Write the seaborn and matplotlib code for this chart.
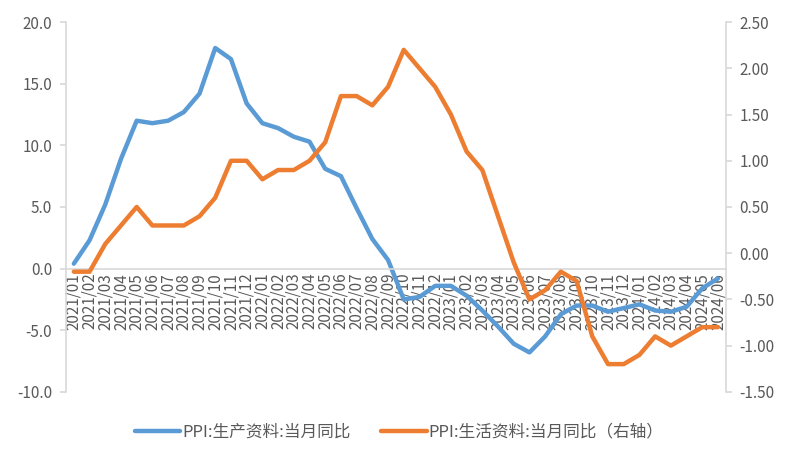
import pandas as pd
import numpy as np
import matplotlib
matplotlib.use('Agg')
import matplotlib.pyplot as plt
import seaborn as sns
from matplotlib.ticker import FormatStrFormatter, FixedLocator

# data: PPI year-on-year, 2021/01 - 2024/06
months = [f'{y}/{m:02d}' for y in (2021, 2022, 2023, 2024) for m in range(1, 13)][:42]
production = [0.4, 2.3, 5.2, 8.9, 12.0, 11.8, 12.0, 12.7, 14.2, 17.9, 17.0, 13.4,
              11.8, 11.4, 10.7, 10.3, 8.1, 7.5, 4.9, 2.4, 0.7, -2.5, -2.3, -1.4,
              -1.4, -2.2, -3.4, -4.7, -6.1, -6.8, -5.5, -3.7, -3.0, -3.0, -3.5, -3.2,
              -2.9, -3.4, -3.5, -3.1, -1.6, -0.8]
consumer = [-0.2, -0.2, 0.1, 0.3, 0.5, 0.3, 0.3, 0.3, 0.4, 0.6, 1.0, 1.0,
            0.8, 0.9, 0.9, 1.0, 1.2, 1.7, 1.7, 1.6, 1.8, 2.2, 2.0, 1.8,
            1.5, 1.1, 0.9, 0.4, -0.1, -0.5, -0.4, -0.2, -0.3, -0.9, -1.2, -1.2,
            -1.1, -0.9, -1.0, -0.9, -0.8, -0.8]
label_prod = 'PPI:生产资料:当月同比'
label_cons = 'PPI:生活资料:当月同比（右轴）'

df = pd.DataFrame({'month': months, 'production': production, 'consumer': consumer})

sns.set_theme(style='white')
plt.rcParams['font.family'] = ['Noto Sans CJK SC', 'DejaVu Sans']

blue = '#5B9BD5'
orange = '#ED7D31'
grey = '#D9D9D9'
txt = '#595959'

fig = plt.figure(figsize=(7.95, 4.61), dpi=100)
ax = fig.add_axes([0.083, 0.150, 0.830, 0.802])
ax2 = ax.twinx()

sns.lineplot(data=df, x='month', y='production', ax=ax, color=blue, linewidth=3.2,
             label=label_prod, sort=False, legend=False)
sns.lineplot(data=df, x='month', y='consumer', ax=ax2, color=orange, linewidth=3.2,
             label=label_cons, sort=False, legend=False)

ax.set_xlim(-0.5, len(months) - 0.5)
ax.set_ylim(-10, 20)
ax2.set_ylim(-1.5, 2.5)
ax.set_yticks(np.arange(-10, 20.1, 5))
ax2.set_yticks(np.arange(-1.5, 2.51, 0.5))
ax.yaxis.set_major_formatter(FormatStrFormatter('%.1f'))
ax2.yaxis.set_major_formatter(FormatStrFormatter('%.2f'))

ax.set_xticks(range(len(months)))
ax.set_xticklabels(months)
ax.xaxis.set_minor_locator(FixedLocator(np.arange(-0.5, len(months), 1)))
ax.spines['bottom'].set_position(('data', 0))

for a in (ax, ax2):
    a.set_xlabel('')
    a.set_ylabel('')
    a.spines['top'].set_visible(False)
    for s in a.spines.values():
        s.set_color(grey)
        s.set_linewidth(1.2)
ax2.spines['bottom'].set_visible(False)
ax.spines['right'].set_visible(False)
ax2.spines['left'].set_visible(False)

ax.tick_params(axis='x', which='major', length=0, pad=3, labelsize=11,
               labelcolor=txt, labelrotation=90)
ax.tick_params(axis='x', which='minor', length=4, color=grey, width=1)
ax.tick_params(axis='y', length=4, color=grey, labelsize=11, labelcolor=txt, pad=6,
               left=True)
ax2.tick_params(axis='y', length=4, color=grey, labelsize=11, labelcolor=txt, pad=6,
                right=True)

h1, l1 = ax.get_legend_handles_labels()
h2, l2 = ax2.get_legend_handles_labels()
fig.legend(h1 + h2, l1 + l2, loc='center', bbox_to_anchor=(0.502, 0.063), ncol=2,
           frameon=False, fontsize=12, handlelength=2.75, handletextpad=0.1,
           columnspacing=1.85, labelcolor=txt)

fig.savefig('out.png', dpi=100)
